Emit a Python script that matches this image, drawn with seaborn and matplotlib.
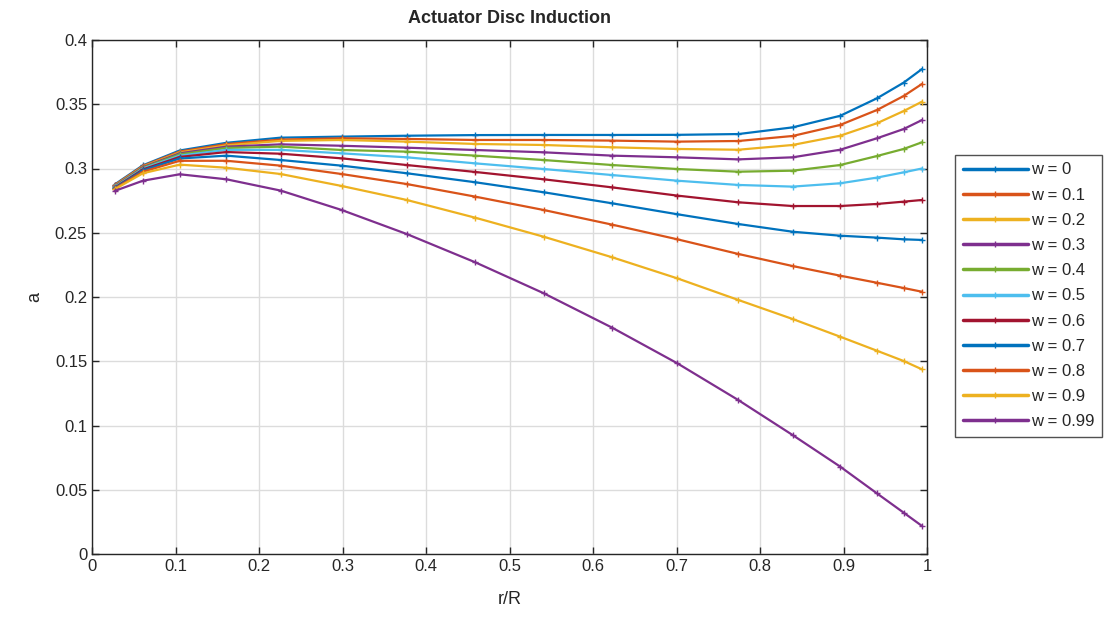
import numpy as np
import pandas as pd
import matplotlib
matplotlib.use("Agg")
import matplotlib.pyplot as plt
import seaborn as sns

r_R = [0.027, 0.061, 0.105, 0.161, 0.226, 0.299, 0.377, 0.459, 0.541,
       0.623, 0.701, 0.774, 0.839, 0.896, 0.940, 0.972, 0.994]

w_labels = ["w = 0", "w = 0.1", "w = 0.2", "w = 0.3", "w = 0.4", "w = 0.5",
            "w = 0.6", "w = 0.7", "w = 0.8", "w = 0.9", "w = 0.99"]

a_w0 = [0.2875, 0.3025, 0.3140, 0.3200, 0.3240, 0.3248, 0.3255, 0.3260, 0.3261,
        0.3261, 0.3262, 0.3268, 0.3320, 0.3410, 0.3546, 0.3668, 0.3774]
a_w01 = [0.2870, 0.3020, 0.3132, 0.3190, 0.3225, 0.3235, 0.3230, 0.3222, 0.3222,
         0.3217, 0.3209, 0.3214, 0.3253, 0.3339, 0.3455, 0.3564, 0.3658]
a_w02 = [0.2866, 0.3015, 0.3125, 0.3180, 0.3215, 0.3222, 0.3209, 0.3191, 0.3183,
         0.3165, 0.3152, 0.3146, 0.3183, 0.3255, 0.3352, 0.3447, 0.3520]
a_w03 = [0.2862, 0.3010, 0.3118, 0.3170, 0.3188, 0.3177, 0.3162, 0.3144, 0.3126,
         0.3100, 0.3087, 0.3071, 0.3087, 0.3146, 0.3235, 0.3307, 0.3377]
a_w04 = [0.2858, 0.3005, 0.3110, 0.3160, 0.3170, 0.3144, 0.3131, 0.3100, 0.3066,
         0.3027, 0.2996, 0.2975, 0.2983, 0.3027, 0.3097, 0.3152, 0.3204]
a_w05 = [0.2854, 0.3000, 0.3100, 0.3145, 0.3145, 0.3118, 0.3087, 0.3040, 0.2996,
         0.2949, 0.2905, 0.2872, 0.2859, 0.2885, 0.2929, 0.2970, 0.3000]
a_w06 = [0.2850, 0.2993, 0.3090, 0.3128, 0.3115, 0.3079, 0.3027, 0.2973, 0.2916,
         0.2853, 0.2789, 0.2737, 0.2708, 0.2708, 0.2724, 0.2742, 0.2755]
a_w07 = [0.2846, 0.2985, 0.3078, 0.3100, 0.3066, 0.3022, 0.2963, 0.2893, 0.2815,
         0.2729, 0.2644, 0.2568, 0.2508, 0.2477, 0.2462, 0.2449, 0.2444]
a_w08 = [0.2842, 0.2975, 0.3060, 0.3060, 0.3022, 0.2957, 0.2879, 0.2781, 0.2677,
         0.2563, 0.2449, 0.2335, 0.2241, 0.2166, 0.2111, 0.2070, 0.2041]
a_w09 = [0.2838, 0.2963, 0.3030, 0.3006, 0.2957, 0.2864, 0.2755, 0.2617, 0.2469,
         0.2309, 0.2145, 0.1977, 0.1829, 0.1691, 0.1582, 0.1502, 0.1437]
a_w099 = [0.2825, 0.2905, 0.2955, 0.2916, 0.2828, 0.2677, 0.2490, 0.2270, 0.2029,
          0.1761, 0.1484, 0.1198, 0.0926, 0.0680, 0.0472, 0.0322, 0.0218]

series = [a_w0, a_w01, a_w02, a_w03, a_w04, a_w05, a_w06, a_w07, a_w08, a_w09, a_w099]

xticks = [0, 0.1, 0.2, 0.3, 0.4, 0.5, 0.6, 0.7, 0.8, 0.9, 1]
xtick_labels = ["0", "0.1", "0.2", "0.3", "0.4", "0.5", "0.6", "0.7", "0.8", "0.9", "1"]
yticks = [0, 0.05, 0.1, 0.15, 0.2, 0.25, 0.3, 0.35, 0.4]
ytick_labels = ["0", "0.05", "0.1", "0.15", "0.2", "0.25", "0.3", "0.35", "0.4"]

matlab_colors = ["#0072BD", "#D95319", "#EDB120", "#7E2F8E", "#77AC30",
                 "#4DBEEE", "#A2142F"]
palette = [matlab_colors[i % 7] for i in range(len(w_labels))]

rows = []
for lab, vals in zip(w_labels, series):
    for x, v in zip(r_R, vals):
        rows.append({"r/R": x, "a": v, "w": lab})
df = pd.DataFrame(rows)

sns.set_style("ticks")
plt.rcParams["font.family"] = ["Liberation Sans", "DejaVu Sans"]

fig = plt.figure(figsize=(11.09, 6.19), dpi=100)
ax = fig.add_axes([92/1109, 65/619, 835/1109, 514/619])

sns.lineplot(data=df, x="r/R", y="a", hue="w", hue_order=w_labels,
             palette=palette, marker="+", markersize=5, markeredgewidth=1.0,
             linewidth=1.6, ax=ax, legend=True, sort=False)
for line in ax.lines:
    line.set_markeredgecolor(line.get_color())

ax.set_xlim(0, 1)
ax.set_ylim(0, 0.4)
ax.set_xticks(xticks)
ax.set_xticklabels(xtick_labels)
ax.set_yticks(yticks)
ax.set_yticklabels(ytick_labels)
ax.grid(True, color="#dcdcdc", linewidth=1.0)
ax.set_axisbelow(True)
for s in ax.spines.values():
    s.set_visible(True)
    s.set_color("#262626")
    s.set_linewidth(1.0)
ax.tick_params(direction="in", length=5, width=1, colors="#262626",
               labelsize=12, top=True, right=True, labelcolor="#262626")
ax.set_xlabel("r/R", fontsize=13, color="#262626", labelpad=12)
ax.set_ylabel("a", fontsize=13, color="#262626", labelpad=8)
ax.set_title("Actuator Disc Induction", fontsize=13, fontweight="bold", pad=12)

handles, labels = ax.get_legend_handles_labels()
if ax.legend_:
    ax.legend_.remove()
leg = fig.legend(handles, labels, loc="upper left",
                 bbox_to_anchor=(955/1109, 1 - 155/619),
                 fontsize=12, handlelength=3.9, labelspacing=0.61,
                 handletextpad=0.2, borderpad=0.45, frameon=True, fancybox=False,
                 borderaxespad=0)
leg.get_frame().set_edgecolor("#262626")
leg.get_frame().set_linewidth(1.0)
for line in leg.get_lines():
    line.set_linewidth(2.5)
    line.set_markeredgecolor(line.get_color())

fig.savefig("out.png", dpi=100)
